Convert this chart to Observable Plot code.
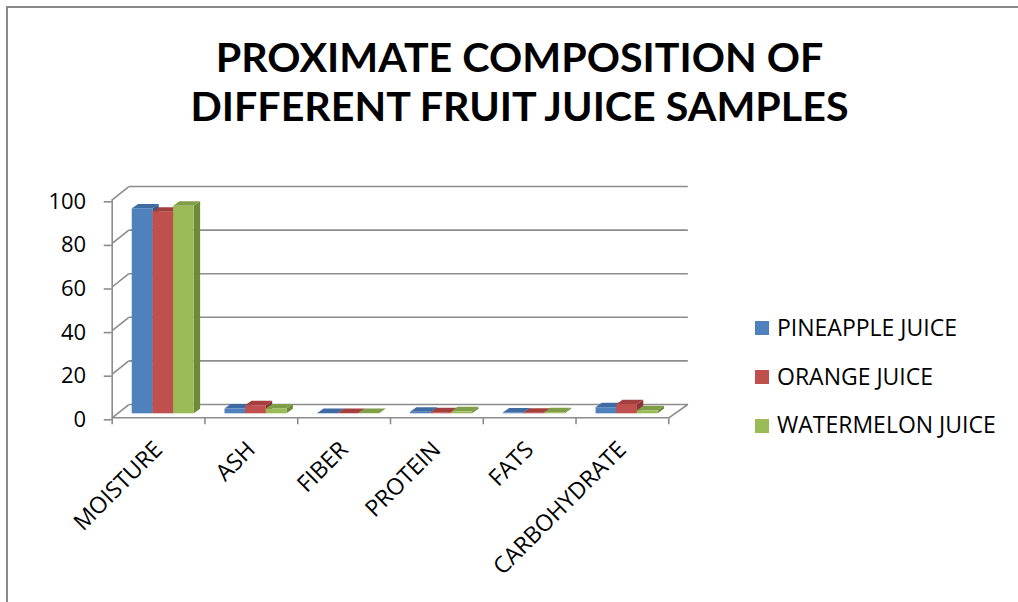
<!DOCTYPE html>
<html><head><meta charset="utf-8">
<script src="https://cdn.jsdelivr.net/npm/d3@7"></script>
<script src="https://cdn.jsdelivr.net/npm/@observablehq/plot@0.6"></script>
<style>
body{margin:0;background:#fff;}
#wrap{position:relative;width:1018px;height:602px;overflow:hidden;font-family:"Open Sans",sans-serif;color:#000;background:#fff;}
#frame{position:absolute;left:6px;top:6px;width:1030px;height:610px;border-top:2px solid #8a8a8a;border-left:2px solid #8a8a8a;}
#chart{position:absolute;left:0;top:0;}
#title{position:absolute;left:10px;top:33px;width:1018px;text-align:center;font-family:Lato,"Open Sans",sans-serif;font-weight:700;font-size:40px;line-height:49px;white-space:nowrap;}
#title span{display:inline-block;text-align:center;transform-origin:50% 50%;}
.li{position:absolute;white-space:nowrap;font-size:23px;line-height:23px;height:23px;}
.sw{position:absolute;width:14px;height:14px;}
</style></head><body>
<div id="wrap">
  <div id="frame"></div>
  <div id="chart"></div>
  <div id="title"><span id="t"></span></div>
  <div id="legend"></div>
</div>
<script>
// ---- data ----
const titleLines = ["PROXIMATE COMPOSITION OF", "DIFFERENT FRUIT JUICE SAMPLES"];
const categories = ["MOISTURE", "ASH", "FIBER", "PROTEIN", "FATS", "CARBOHYDRATE"];
const series = ["PINEAPPLE JUICE", "ORANGE JUICE", "WATERMELON JUICE"];
const pineapple = [94.0, 2.2, 0.2, 0.7, 0.4, 2.8];
const orange = [92.5, 3.7, 0.2, 0.5, 0.3, 4.2];
const watermelon = [95.2, 2.2, 0.2, 0.9, 0.5, 1.4];
const yTicks = [0, 20, 40, 60, 80, 100];

// ---- styling ----
const values = [pineapple, orange, watermelon];
const frontC = ["#4F81BD", "#C0504D", "#9BBB59"];
const topC = ["#3F6BA3", "#A3403D", "#809E47"];
const sideC = ["#355B8A", "#8B3634", "#6C8A38"];
const grid = "#8c8c8c";
const N = categories.length;
// 3D projection offsets (in scale units)
const BX = 0.054, BY = 1.83;      // bars placed at mid depth
const G0 = 0.162, BW = 0.223;     // group start, bar width
const DX = 0.068, DY = 2.06;      // bar depth
const WX0 = 0.179, WS = 1.00433, WY = 6.1; // back wall
const backX = u => WX0 + WS * u;

const marks = [
  Plot.link(yTicks, {x1: () => backX(0), x2: () => backX(N), y1: d => d + WY, y2: d => d + WY, stroke: grid, strokeWidth: 1.6}),
  Plot.link(yTicks, {x1: () => 0, y1: d => d, x2: () => backX(0), y2: d => d + WY, stroke: grid, strokeWidth: 1.6}),
  Plot.link([N], {x1: d => d, y1: () => 0, x2: d => backX(d), y2: () => WY, stroke: grid, strokeWidth: 1.6}),
  Plot.ruleY([0], {x1: 0, x2: N, stroke: grid, strokeWidth: 1.6}),
  Plot.ruleX([0], {y1: 0, y2: d3.max(yTicks), stroke: grid, strokeWidth: 1.6}),
  Plot.axisY({ticks: yTicks, tickSize: 8, tickPadding: 18, fontSize: 22, stroke: grid, strokeWidth: 1.6, dy: 2, label: null}),
  Plot.axisX({ticks: d3.range(N + 1), tickFormat: () => "", tickSize: 7, stroke: grid, strokeWidth: 1.6, label: null}),
  Plot.axisX({ticks: d3.range(N).map(i => i + 0.5), tickFormat: d => categories[Math.floor(d)], tickSize: 0, tickRotate: -45, tickPadding: 28, fontSize: 23, label: null})
];

values.forEach((vals, j) => {
  const bars = categories.map((c, i) => {
    const x0 = i + BX + G0 + j * BW;
    return {x0, x1: x0 + BW, yb: BY, yt: BY + vals[i]};
  });
  const side = bars.flatMap((b, i) => [
    {k: i, x: b.x1, lo: b.yb, hi: b.yt},
    {k: i, x: b.x1 + DX, lo: b.yb + DY, hi: b.yt + DY}
  ]);
  const top = bars.flatMap((b, i) => [
    {k: i, y: b.yt, l: b.x0, r: b.x1},
    {k: i, y: b.yt + DY, l: b.x0 + DX, r: b.x1 + DX}
  ]);
  marks.push(
    Plot.areaY(side, {x: "x", y1: "lo", y2: "hi", z: "k", fill: sideC[j]}),
    Plot.areaX(top, {y: "y", x1: "l", x2: "r", z: "k", fill: topC[j]}),
    Plot.rect(bars, {x1: "x0", x2: "x1", y1: "yb", y2: "yt", fill: frontC[j]})
  );
});

const chart = Plot.plot({
  width: 1018,
  height: 602,
  marginLeft: 111.7,
  marginRight: 1018 - 668.3,
  marginTop: 199.3,
  marginBottom: 602 - 417.3,
  x: {domain: [0, N], axis: null},
  y: {domain: [0, 100], axis: null},
  style: {fontFamily: "'Open Sans', sans-serif", color: "#000", background: "transparent", overflow: "visible"},
  marks
});
document.getElementById("chart").appendChild(chart);

// title (one text block, two lines, fitted to the reference width)
const ts = document.getElementById("t");
ts.innerHTML = titleLines.join("<br>");
const w = ts.getBoundingClientRect().width;
ts.style.transform = `scaleX(${658 / w})`;

// legend
const lg = document.getElementById("legend");
const rowsY = [328, 377, 425.5];
series.forEach((s, j) => {
  const sw = document.createElement("div");
  sw.className = "sw";
  sw.style.left = "755px";
  sw.style.top = (rowsY[j] - 7) + "px";
  sw.style.background = frontC[j];
  lg.appendChild(sw);
  const t = document.createElement("div");
  t.className = "li";
  t.style.left = "777px";
  t.style.top = (rowsY[j] - 12.2) + "px";
  t.textContent = s;
  lg.appendChild(t);
});
</script>
</body></html>
